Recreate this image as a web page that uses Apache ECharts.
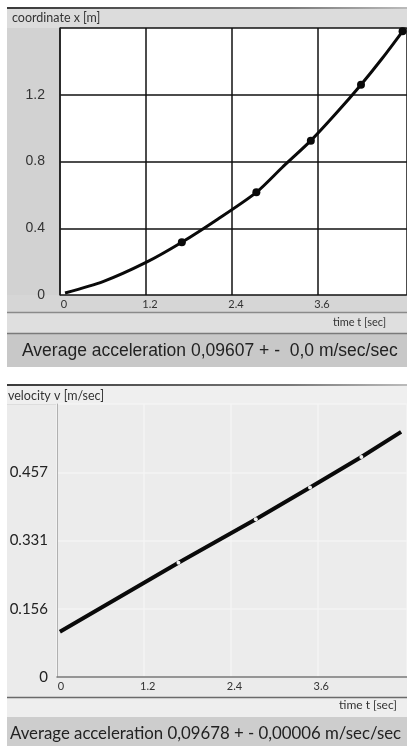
<!DOCTYPE html>
<html>
<head>
<meta charset="utf-8">
<script src="https://cdn.jsdelivr.net/npm/echarts@6/dist/echarts.min.js"></script>
<style>
  html, body { margin: 0; padding: 0; background: #ffffff; }
  #chart { width: 407px; height: 746px; }
</style>
</head>
<body>
<div id="chart"></div>
<script>
// Time axis tick labels (shared by both panels)
const timeTicks = ['0', '1.2', '2.4', '3.6'];

// Coordinate panel: fitted curve and measured points
const coordTicks = ['0', '0.4', '0.8', '1.2'];
const curveT = [0.07, 0.6, 1.2, 1.70, 2.2, 2.74, 3.1, 3.50, 3.85, 4.20, 4.5, 4.78];
const curveX = [0.012, 0.08, 0.195, 0.316, 0.454, 0.615, 0.764, 0.925, 1.087, 1.26, 1.42, 1.58];
const markT = [1.70, 2.74, 3.50, 4.20, 4.78];
const markX = [0.316, 0.615, 0.925, 1.26, 1.58];

// Velocity panel: straight fit, with small breaks at the measurement times
const velTicks = ['0', '0.156', '0.331', '0.457'];
const velT = [0.04, 1.68, 2.75, 3.50, 4.21, 4.76];
const velV = [0.101, 0.255, 0.352, 0.423, 0.491, 0.547];

const coordText = 'coordinate x [m]';
const velText = 'velocity v [m/sec]';
const timeText = 'time t [sec]';
const accTop = 'Average acceleration 0,09607 + -  0,0 m/sec/sec';
const accBottom = 'Average acceleration 0,09678 + - 0,00006 m/sec/sec';

const velStep = 0.1523;
const T_MAX = 4.84;

const chart = echarts.init(document.getElementById('chart'), null, { renderer: 'canvas' });

function rect(x, y, w, h, fill) {
  return { type: 'rect', z: -5, silent: true, shape: { x, y, width: w, height: h }, style: { fill } };
}
function hline(x1, x2, y, stroke, w) {
  return { type: 'line', z: -4, silent: true, shape: { x1, y1: y, x2, y2: y }, style: { stroke, lineWidth: w || 1 } };
}
function txt(x, y, text, font, fill, align) {
  return { type: 'text', z: 10, silent: true, x, y,
    style: { text, font, fill: fill || '#333', textAlign: align || 'left', textVerticalAlign: 'middle' } };
}

const shadow = {
  type: 'linear', x: 0, y: 0, x2: 1, y2: 0,
  colorStops: [{ offset: 0, color: '#3a3a3a' }, { offset: 0.7, color: '#777' }, { offset: 1, color: '#bbb' }]
};

const timeLabel = (v) => {
  const i = Math.round(v / 1.2);
  return timeTicks[i] !== undefined && Math.abs(v - i * 1.2) < 1e-6 ? timeTicks[i] : '';
};

chart.setOption({
  animation: false,
  backgroundColor: '#ffffff',
  graphic: [
    // coordinate panel frame
    rect(7, 7, 400, 2, shadow),
    rect(7, 9, 400, 19, '#dcdcdc'),
    rect(7, 28, 53, 285, '#d2d2d2'),
    rect(7, 295, 400, 17, '#d6d6d6'),
    hline(7, 407, 312.5, '#8a8a8a', 1.5),
    rect(7, 313, 400, 20, '#dfdfdf'),
    hline(7, 407, 333.5, '#7a7a7a', 1.5),
    rect(7, 334, 400, 33, '#c8c8c8'),
    txt(12, 18, coordText, '12.5px Lato', '#333'),
    txt(386, 322, timeText, '11px Lato', '#333', 'right'),
    txt(22, 351, accTop, '17.5px "Liberation Sans"', '#222'),
    // velocity panel frame
    rect(7, 384, 400, 2, shadow),
    rect(7, 386, 400, 18, '#efefef'),
    rect(7, 404, 400, 293, '#ebebeb'),
    hline(7, 407, 404.5, '#dddddd', 1),
    hline(7, 407, 697.5, '#6a6a6a', 1.5),
    rect(7, 698, 400, 19, '#eeeeee'),
    rect(7, 717, 400, 29, '#cdcdcd'),
    txt(8, 396, velText, '12.5px Lato', '#333'),
    txt(397, 705, timeText, '12px Lato', '#333', 'right'),
    txt(10, 734, accBottom, '16.8px Lato', '#222')
  ],
  grid: [
    { left: 60, top: 28, width: 347, height: 267, show: true, backgroundColor: '#ffffff', borderWidth: 0 },
    { left: 57, top: 404, width: 350, height: 273, show: true, backgroundColor: '#ececec', borderWidth: 0 }
  ],
  xAxis: [
    {
      gridIndex: 0, type: 'value', min: 0, max: T_MAX, interval: 1.2,
      axisLine: { show: false }, axisTick: { show: false },
      splitLine: { show: true, lineStyle: { color: ['#111', '#111', '#111', '#111', 'rgba(0,0,0,0)'], width: 1.5 } },
      axisLabel: { formatter: timeLabel, margin: 4, padding: [0, 0, 0, 8], fontSize: 11, color: '#333', fontFamily: 'Lato', showMaxLabel: false }
    },
    {
      gridIndex: 1, type: 'value', min: 0, max: T_MAX, interval: 1.2,
      axisLine: { show: true, lineStyle: { color: '#777', width: 1.5 } }, axisTick: { show: false },
      splitLine: { show: true, lineStyle: { color: ['#f4f4f4', '#f4f4f4', '#f4f4f4', '#f4f4f4', 'rgba(0,0,0,0)'], width: 1.5 } },
      axisLabel: { formatter: timeLabel, margin: 4, padding: [0, 0, 0, 8], fontSize: 11, color: '#333', fontFamily: 'Lato', showMaxLabel: false }
    }
  ],
  yAxis: [
    {
      gridIndex: 0, type: 'value', min: 0, max: 1.6, interval: 0.4,
      axisLine: { show: true, onZero: false, lineStyle: { color: '#222', width: 1.5 } }, axisTick: { show: false },
      splitLine: { show: true, lineStyle: { color: '#111', width: 1.5 } },
      axisLabel: {
        formatter: (v) => coordTicks[Math.round(v / 0.4)] || '',
        margin: 15, fontSize: 14, color: '#333', fontFamily: '"Liberation Sans"'
      }
    },
    {
      gridIndex: 1, type: 'value', min: 0, max: velStep * 4, interval: velStep,
      axisLine: { show: true, onZero: false, lineStyle: { color: '#b0b0b0', width: 1 } }, axisTick: { show: false },
      splitLine: { show: true, lineStyle: { color: '#f4f4f4', width: 1.5 } },
      axisLabel: {
        formatter: (v) => velTicks[Math.round(v / velStep)] || '',
        margin: 9, fontSize: 15, color: '#222', fontFamily: 'Lato'
      }
    }
  ],
  series: [
    {
      type: 'line', xAxisIndex: 0, yAxisIndex: 0, smooth: 0.25, showSymbol: false,
      data: curveT.map((t, i) => [t, curveX[i]]),
      lineStyle: { color: '#0a0a0a', width: 3 }, z: 3
    },
    {
      type: 'scatter', xAxisIndex: 0, yAxisIndex: 0, symbolSize: 8,
      data: markT.map((t, i) => [t, markX[i]]),
      itemStyle: { color: '#0a0a0a', opacity: 1 }, z: 4
    },
    {
      type: 'line', xAxisIndex: 1, yAxisIndex: 1, showSymbol: true, symbol: 'circle',
      symbolSize: (val, p) => (p.dataIndex === 0 || p.dataIndex === velT.length - 1 ? 0 : 4),
      data: velT.map((t, i) => [t, velV[i]]),
      lineStyle: { color: '#0a0a0a', width: 4 },
      itemStyle: { color: '#f2f2f2', borderWidth: 0, opacity: 1 }, z: 3
    }
  ]
});
</script>
</body>
</html>
